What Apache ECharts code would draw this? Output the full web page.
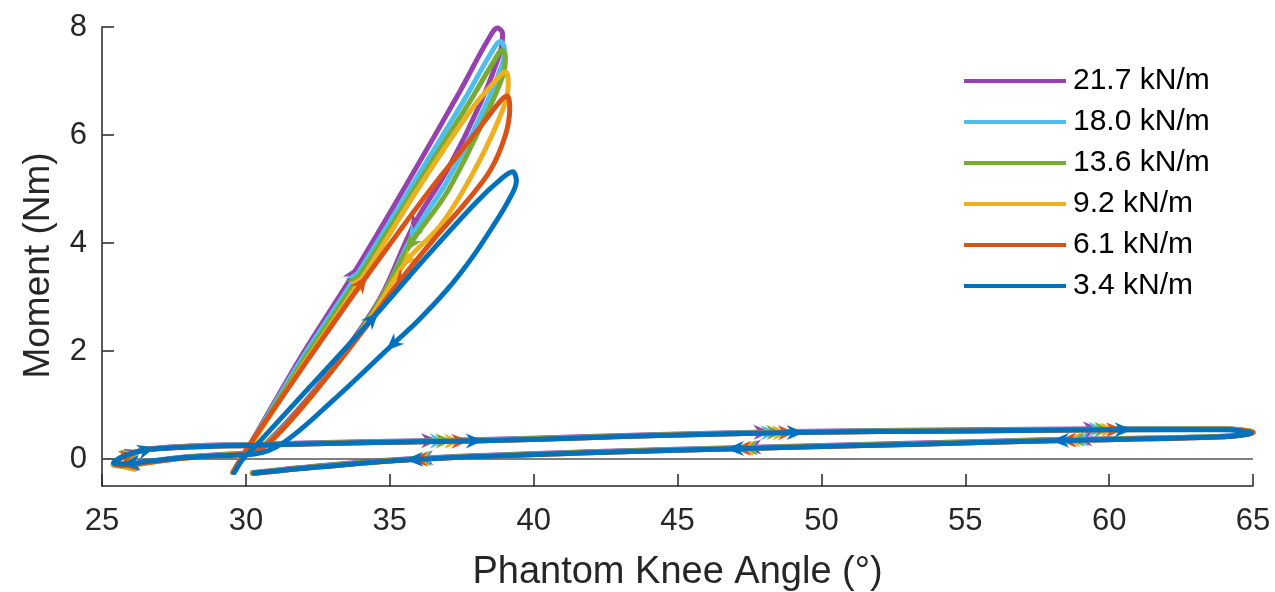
<!DOCTYPE html>
<html>
<head>
<meta charset="utf-8" />
<title>Phantom knee moment</title>
<script src="https://cdn.jsdelivr.net/npm/echarts@6/dist/echarts.min.js"></script>
<style>
  html, body { margin: 0; padding: 0; background: #fff; }
  #main { width: 1275px; height: 592px; }
</style>
</head>
<body>
<div id="main"></div>
<script>
// legend names (stiffness) and colours
var names = ['21.7 kN/m', '18.0 kN/m', '13.6 kN/m', '9.2 kN/m', '6.1 kN/m', '3.4 kN/m'];
var colors = ['#9641ae', '#4dbeee', '#77ac30', '#edb120', '#d95319', '#0072bd'];
var yTicks = [0, 2, 4, 6, 8];

// one gait cycle per stiffness: [angle (deg), moment (Nm)]
var k217 = [[29.55,-0.25],[29.85,0.02],[30.2,0.32],[31.9,1.88],[33.75,3.44],[35.6,5.1],[37.46,6.83],[38.4,7.75],[38.75,7.98],[38.92,7.88],[38.87,7.6],[38.15,6.59],[37.0,5.35],[35.8,4.3],[34.67,2.98],[33.3,1.9],[32.1,1.09],[31.0,0.45],[30.3,0.15],[29.0,0.08],[27.7,0.03],[26.5,-0.06],[25.8,-0.12],[25.4,-0.09],[25.7,0.04],[26.55,0.18],[28,0.24],[30,0.27],[34,0.32],[38.2,0.36],[41.6,0.41],[44,0.45],[49,0.51],[55,0.54],[60,0.56],[64,0.56],[64.95,0.5],[64,0.42],[58,0.36],[53,0.29],[47,0.21],[41.6,0.13],[35.8,0.01],[32.5,-0.13],[30.25,-0.25]];
var k180 = [[29.55,-0.25],[29.85,0.02],[30.2,0.31],[31.95,1.86],[33.85,3.4],[35.7,5.0],[37.6,6.66],[38.5,7.5],[38.85,7.73],[38.98,7.6],[38.9,7.3],[38.2,6.4],[37.0,5.15],[35.8,4.15],[34.6,2.87],[33.3,1.86],[32.1,1.06],[31.0,0.43],[30.3,0.14],[29.0,0.07],[27.7,0.02],[26.5,-0.07],[25.8,-0.12],[25.4,-0.09],[25.7,0.03],[26.55,0.17],[28,0.23],[30,0.26],[34,0.31],[38.2,0.35],[41.6,0.4],[44,0.44],[49,0.5],[55,0.53],[60,0.55],[64,0.555],[64.97,0.5],[64,0.42],[58,0.35],[53,0.28],[47,0.2],[41.6,0.12],[35.8,0.0],[32.5,-0.14],[30.22,-0.26]];
var k136 = [[29.55,-0.25],[29.85,0.02],[30.2,0.3],[32.0,1.82],[33.9,3.35],[35.8,4.95],[37.7,6.55],[38.6,7.35],[38.9,7.57],[39.02,7.45],[38.93,7.1],[38.2,6.2],[37.0,4.95],[35.72,3.98],[34.5,2.8],[33.2,1.8],[32.0,1.0],[31.0,0.42],[30.3,0.14],[29.0,0.07],[27.7,0.02],[26.5,-0.07],[25.8,-0.13],[25.38,-0.1],[25.7,0.03],[26.55,0.17],[28,0.23],[30,0.26],[34,0.31],[38.2,0.35],[41.6,0.4],[44,0.44],[49,0.5],[55,0.53],[60,0.55],[64,0.555],[64.98,0.5],[64,0.42],[58,0.35],[53,0.28],[47,0.2],[41.6,0.12],[35.8,0.0],[32.5,-0.14],[30.22,-0.26]];
var k92 = [[29.55,-0.25],[29.85,0.02],[30.2,0.28],[32.0,1.75],[34.0,3.32],[35.95,4.98],[37.8,6.45],[38.75,7.05],[39.02,7.17],[39.12,6.95],[38.95,6.5],[38.0,5.4],[36.8,4.35],[35.6,3.68],[34.4,2.67],[33.1,1.72],[32.0,0.98],[31.0,0.4],[30.3,0.13],[29.0,0.06],[27.7,0.01],[26.5,-0.08],[25.8,-0.13],[25.4,-0.09],[25.7,0.03],[26.55,0.17],[28,0.22],[30,0.25],[34,0.3],[38.2,0.34],[41.6,0.39],[44,0.43],[49,0.49],[55,0.52],[60,0.54],[64,0.55],[65.02,0.49],[64,0.41],[58,0.34],[53,0.27],[47,0.19],[41.6,0.11],[35.8,-0.01],[32.5,-0.15],[30.25,-0.27]];
var k61 = [[29.55,-0.25],[29.85,0.02],[30.15,0.28],[32.0,1.72],[34.03,3.26],[36.4,4.98],[38.0,6.05],[38.8,6.6],[39.07,6.72],[39.17,6.5],[39.02,6.0],[38.5,5.35],[37.69,4.78],[36.5,4.05],[35.37,3.31],[34.2,2.47],[33.0,1.64],[31.9,0.93],[31.0,0.4],[30.3,0.13],[29.0,0.06],[27.7,0.01],[26.5,-0.07],[25.8,-0.12],[25.42,-0.09],[25.7,0.03],[26.55,0.17],[28,0.22],[30,0.25],[34,0.3],[38.2,0.34],[41.6,0.39],[44,0.43],[49,0.49],[55,0.52],[60,0.54],[64,0.55],[65.0,0.49],[64,0.41],[58,0.34],[53,0.27],[47,0.19],[41.6,0.11],[35.8,-0.01],[32.5,-0.15],[30.25,-0.27]];
var k34 = [[29.6,-0.25],[29.9,0.0],[30.3,0.22],[31.8,1.09],[34.4,2.6],[36.2,3.7],[38.0,4.75],[38.9,5.2],[39.27,5.32],[39.4,5.15],[39.12,4.78],[38.55,4.28],[37.85,3.72],[37.0,3.14],[36.0,2.57],[35.1,2.12],[33.0,1.07],[31.3,0.3],[30.3,0.09],[29.0,0.06],[27.7,0.02],[26.5,-0.05],[25.8,-0.09],[25.4,-0.07],[25.7,0.04],[26.55,0.17],[28,0.22],[30,0.25],[34,0.3],[38.2,0.34],[41.6,0.39],[44,0.43],[49,0.49],[55,0.52],[60,0.54],[64,0.54],[64.93,0.48],[64,0.41],[58,0.34],[53,0.27],[47,0.19],[41.6,0.11],[35.8,-0.01],[32.5,-0.15],[30.3,-0.26]];
var cycles = [k217, k180, k136, k92, k61, k34];

// where the direction arrowheads sit on each curve
var arrows217 = [[33.75,3.44],[35.85,4.35],[26.0,-0.13],[26.1,0.12],[36.4,0.34],[36.2,0.0],[47.95,0.5],[47.6,0.2],[59.4,0.55],[59.1,0.36]];
var arrows180 = [[33.85,3.4],[35.8,4.15],[25.9,-0.13],[26.0,0.11],[36.7,0.34],[36.15,0.0],[48.2,0.5],[47.5,0.2],[59.6,0.55],[59.0,0.36]];
var arrows136 = [[33.9,3.35],[35.72,3.98],[25.8,-0.13],[26.0,0.11],[36.9,0.34],[36.1,0.0],[48.4,0.5],[47.45,0.2],[59.8,0.55],[58.85,0.35]];
var arrows92 = [[33.97,3.3],[35.6,3.68],[25.85,-0.13],[25.95,0.1],[37.2,0.34],[36.05,0.0],[48.6,0.5],[47.35,0.2],[60.0,0.55],[58.7,0.35]];
var arrows61 = [[34.03,3.26],[35.37,3.31],[25.95,-0.13],[25.9,0.1],[37.45,0.34],[36.0,0.0],[48.8,0.5],[47.25,0.2],[60.2,0.55],[58.55,0.35]];
var arrows34 = [[34.4,2.6],[35.1,2.12],[26.0,-0.09],[26.55,0.17],[37.95,0.35],[35.85,0.0],[49.1,0.5],[47.0,0.19],[60.5,0.54],[58.3,0.34]];
var arrowSets = [arrows217, arrows180, arrows136, arrows92, arrows61, arrows34];

var font = 'Liberation Sans, Arial, Helvetica, sans-serif';
var ink = '#262626';
var arrowPath = 'path://M0,0L6,16L0,11L-6,16Z';

var chart = echarts.init(document.getElementById('main'));

function lineSeries(i) {
    var s = {
        name: names[i],
        type: 'line',
        data: cycles[i],
        smooth: 0.35,
        symbol: 'none',
        showSymbol: false,
        z: 2 + i * 2,
        itemStyle: { color: colors[i] },
        lineStyle: { color: colors[i], width: 5, cap: 'round', join: 'round' }
    };
    if (i === 0) {
        s.markLine = {
            silent: true,
            symbol: 'none',
            label: { show: false },
            lineStyle: { color: '#555', width: 1.5, type: 'solid' },
            data: [{ yAxis: 0 }]
        };
    }
    return s;
}

var series = [];
for (var i = 0; i < names.length; i++) series.push(lineSeries(i));

chart.setOption({
    animation: false,
    backgroundColor: '#fff',
    textStyle: { fontFamily: font },
    grid: { left: 102, right: 22, top: 27, bottom: 106, containLabel: false, outerBoundsMode: 'none' },
    legend: {
        data: names,
        orient: 'vertical',
        left: 959,
        top: 61,
        icon: 'rect',
        itemWidth: 102,
        itemHeight: 4,
        itemGap: 11,
        itemStyle: { borderWidth: 0 },
        textStyle: { fontSize: 30, color: '#000', fontFamily: font, lineHeight: 30, padding: [0, 0, 0, 2] }
    },
    xAxis: {
        type: 'value',
        min: 25, max: 65, interval: 5,
        name: 'Phantom Knee Angle (°)',
        nameLocation: 'middle',
        nameGap: 68,
        nameTextStyle: { fontSize: 38, color: ink, fontFamily: font },
        axisLine: { show: true, onZero: false, lineStyle: { color: ink, width: 1.5 } },
        axisTick: { show: true, inside: true, length: 12, lineStyle: { color: ink, width: 1.5 } },
        axisLabel: { fontSize: 31, color: ink, margin: 20, fontFamily: font },
        splitLine: { show: false }
    },
    yAxis: {
        type: 'value',
        min: -0.5, max: 8,
        name: 'Moment (Nm)',
        nameLocation: 'middle',
        nameGap: 45,
        nameTextStyle: { fontSize: 37, color: ink, fontFamily: font, padding: [0, 18, 0, 0] },
        axisLine: { show: true, onZero: false, lineStyle: { color: ink, width: 1.5 } },
        axisTick: { show: true, inside: true, length: 12, customValues: yTicks, lineStyle: { color: ink, width: 1.5 } },
        axisLabel: { fontSize: 31, color: ink, margin: 15, fontFamily: font, customValues: yTicks },
        splitLine: { show: false }
    },
    series: series
});

// place arrowheads on the nearest segment of each curve, pointing along it
function toPx(p) { return chart.convertToPixel({ gridIndex: 0 }, p); }
function arrowData(points, marks) {
    var px = points.map(toPx);
    return marks.map(function (m) {
        var p = toPx(m);
        var best = null, bd = Infinity;
        for (var j = 0; j < px.length - 1; j++) {
            var a = px[j], b = px[j + 1];
            var dx = b[0] - a[0], dy = b[1] - a[1], L = dx * dx + dy * dy;
            var t = L ? Math.max(0, Math.min(1, ((p[0] - a[0]) * dx + (p[1] - a[1]) * dy) / L)) : 0;
            var qx = a[0] + t * dx, qy = a[1] + t * dy;
            var d = (qx - p[0]) * (qx - p[0]) + (qy - p[1]) * (qy - p[1]);
            if (d < bd) { bd = d; best = { q: [qx, qy], dx: dx, dy: dy }; }
        }
        return {
            value: chart.convertFromPixel({ gridIndex: 0 }, best.q),
            symbolRotate: Math.atan2(-best.dx, -best.dy) * 180 / Math.PI
        };
    });
}

var all = series.slice();
for (var k = 0; k < names.length; k++) {
    all.push({
        name: names[k] + ' arrows',
        type: 'scatter',
        data: arrowData(cycles[k], arrowSets[k]),
        symbol: arrowPath,
        symbolSize: [15, 18],
        z: 3 + k * 2,
        silent: true,
        itemStyle: { color: colors[k], opacity: 1 }
    });
}
chart.setOption({ series: all });
</script>
</body>
</html>
